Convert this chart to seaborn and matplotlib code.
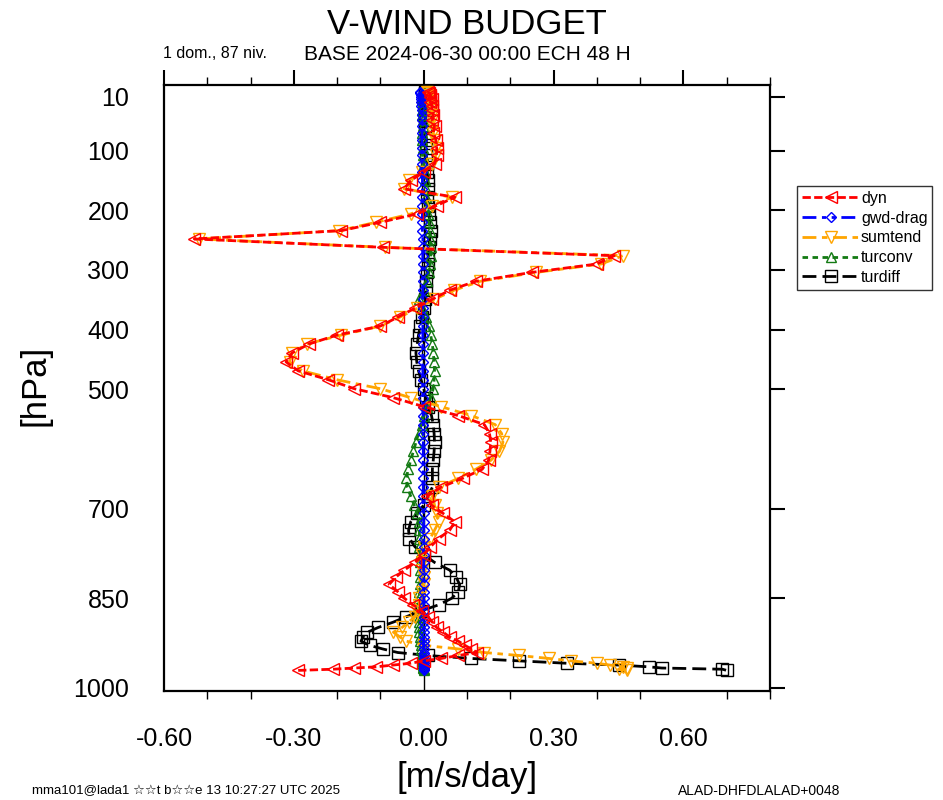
import matplotlib
matplotlib.use("Agg")
import matplotlib.pyplot as plt
import seaborn as sns
import numpy as np
import pandas as pd

# ---------------- data ----------------
pressure = [1, 3, 6, 10, 14, 19, 25, 32, 40, 49, 59, 70, 82, 95,
            108, 122, 136, 150, 164, 178, 192, 206, 220, 234, 248, 262, 276, 290,
            304, 319, 334, 349, 364, 379, 394, 409, 424, 439, 454, 469, 484, 499,
            514, 529, 544, 559, 574, 589, 604, 619, 634, 649, 664, 679, 694,
            708, 722, 736, 750, 764, 777, 790, 803, 815, 827, 839, 850, 861, 871,
            881, 890, 899, 907, 915, 922, 929, 935, 941, 946, 951, 955, 959, 962,
            965, 967, 969, 971]

dyn = [0.010, 0.012, 0.015, 0.015, 0.018, 0.015, 0.020, 0.018, 0.022, 0.020, 0.025, 0.022, 0.028, 0.030,
       0.030, 0.025, 0.000, -0.030, -0.045, 0.072, 0.030, -0.015, -0.100, -0.190, -0.530, -0.095, 0.440, 0.400,
       0.250, 0.120, 0.060, 0.020, -0.020, -0.060, -0.100, -0.200, -0.265, -0.304, -0.318, -0.290, -0.220, -0.160,
       -0.070, 0.000, 0.080, 0.140, 0.152, 0.155, 0.153, 0.150, 0.135, 0.090, 0.040, 0.008, 0.018,
       0.045, 0.072, 0.060, 0.035, 0.015, 0.000, -0.020, -0.045, -0.065, -0.080, -0.060, -0.045, -0.025, -0.005,
       0.010, 0.020, 0.030, 0.045, 0.060, 0.080, 0.095, 0.110, 0.123, 0.080, 0.040, 0.000, -0.030, -0.070,
       -0.110, -0.160, -0.210, -0.290]

gwd_drag = [-0.008, -0.008, -0.007, -0.007, -0.006, -0.006, -0.006, -0.005, -0.005, -0.005, -0.004, -0.004, -0.004, -0.004,
            -0.004, -0.004, -0.003, -0.003, -0.003, -0.003, -0.003, -0.003, -0.003, -0.003, -0.002, -0.002, -0.002, -0.002,
            -0.002, -0.002, -0.002, -0.002, -0.002, -0.002, -0.002, -0.002, -0.002, -0.002, -0.002, -0.002, -0.002, -0.002,
            -0.001, -0.001, -0.001, -0.001, -0.001, -0.001, -0.001, -0.001, -0.001, -0.001, -0.001, -0.001, -0.001,
            0.000, 0.000, 0.000, 0.000, 0.000, 0.000, 0.000, 0.000, 0.000, 0.000, 0.000, 0.000, 0.000, 0.000,
            0.000, 0.000, 0.000, 0.000, 0.000, 0.000, 0.000, 0.000, 0.000, 0.000, 0.000, 0.000, 0.000, 0.000,
            0.000, 0.000, 0.000, 0.000]

sumtend = [0.008, 0.010, 0.012, 0.014, 0.015, 0.015, 0.018, 0.018, 0.020, 0.020, 0.022, 0.022, 0.025, 0.028,
           0.028, 0.020, -0.005, -0.035, -0.045, 0.065, 0.020, -0.030, -0.110, -0.195, -0.520, -0.090, 0.460, 0.410,
           0.260, 0.130, 0.070, 0.025, -0.015, -0.055, -0.100, -0.190, -0.270, -0.305, -0.310, -0.280, -0.200, -0.100,
           -0.030, 0.040, 0.110, 0.165, 0.180, 0.183, 0.175, 0.155, 0.120, 0.080, 0.035, 0.020, 0.025,
           0.030, 0.035, 0.025, 0.015, 0.000, -0.005, -0.005, -0.005, 0.000, 0.000, -0.005, -0.010, -0.010, -0.015,
           -0.020, -0.035, -0.050, -0.070, -0.055, -0.040, 0.000, 0.080, 0.140, 0.220, 0.290, 0.340, 0.400, 0.430,
           0.460, 0.470, 0.450, 0.470]

turconv = [0.000, -0.002, -0.002, -0.003, -0.003, -0.002, -0.002, -0.003, -0.003, -0.002, -0.002, -0.003, -0.003, -0.002,
           -0.002, 0.000, 0.002, 0.004, 0.005, 0.006, 0.008, 0.010, 0.012, 0.014, 0.015, 0.016, 0.016, 0.015,
           0.012, 0.008, 0.000, -0.012, -0.005, 0.005, 0.012, 0.016, 0.020, 0.022, 0.024, 0.025, 0.024, 0.022,
           0.016, 0.008, 0.000, -0.005, -0.012, -0.018, -0.024, -0.030, -0.036, -0.040, -0.038, -0.030, -0.022,
           -0.015, -0.012, -0.010, -0.010, -0.010, -0.008, -0.008, -0.008, -0.008, -0.008, -0.010, -0.010, -0.010, -0.010,
           -0.010, -0.010, -0.010, -0.010, -0.008, -0.008, -0.006, -0.006, -0.005, -0.005, -0.004, -0.003, -0.003, -0.002,
           -0.002, -0.001, 0.000, 0.000]

turdiff = [0.002, 0.002, 0.003, 0.003, 0.004, 0.003, 0.004, 0.005, 0.004, 0.005, 0.004, 0.005, 0.006, 0.005,
           0.006, 0.008, 0.008, 0.010, 0.010, 0.008, 0.010, 0.012, 0.014, 0.016, 0.014, 0.012, 0.010, 0.010,
           0.008, 0.006, 0.005, 0.004, 0.000, -0.005, -0.008, -0.012, -0.015, -0.018, -0.016, -0.012, -0.006, 0.000,
           0.005, 0.010, 0.018, 0.022, 0.024, 0.025, 0.024, 0.022, 0.020, 0.020, 0.020, 0.010, 0.000,
           -0.015, -0.030, -0.035, -0.033, -0.020, 0.000, 0.025, 0.060, 0.075, 0.083, 0.080, 0.065, 0.035, -0.005,
           -0.040, -0.070, -0.105, -0.130, -0.140, -0.145, -0.125, -0.095, -0.060, 0.010, 0.110, 0.220, 0.330, 0.450,
           0.520, 0.550, 0.690, 0.700]

series_names = ["dyn", "gwd-drag", "sumtend", "turconv", "turdiff"]
x_ticks = [-0.60, -0.30, 0.00, 0.30, 0.60]
x_ticklabels = ["-0.60", "-0.30", "0.00", "0.30", "0.60"]
y_ticks = [10, 100, 200, 300, 400, 500, 700, 850, 1000]
y_ticklabels = ["10", "100", "200", "300", "400", "500", "700", "850", "1000"]

# ---------------- style ----------------
sns.set_theme(style="white")
FONT = ["Liberation Sans", "DejaVu Sans"]
plt.rcParams["font.family"] = FONT
plt.rcParams["text.color"] = "black"
plt.rcParams["axes.labelcolor"] = "black"

fig = plt.figure(figsize=(9.43, 8.0), dpi=100)
ax = fig.add_axes([164 / 943, 1 - 691 / 800, (770 - 164) / 943, (691 - 85) / 800])

ax.axvline(0.0, color="black", lw=1.0, zorder=0.5)

styles = {
    "turdiff": dict(vals=turdiff, color="black", marker="s", ms=8.5, ls=(0, (5, 2.2)), z=2),
    "turconv": dict(vals=turconv, color="#137a13", marker="^", ms=7.5, ls=(0, (2, 1.6)), z=3),
    "sumtend": dict(vals=sumtend, color="#ffa500", marker="v", ms=8.5, ls=(0, (5, 2, 2, 2)), z=4),
    "gwd-drag": dict(vals=gwd_drag, color="#0000ff", marker="D", ms=5.5, ls=(0, (5, 2, 1.5, 2, 1.5, 2)), z=5),
    "dyn": dict(vals=dyn, color="#ff0000", marker="<", ms=8.5, ls=(0, (3, 1.2)), z=6),
}

handles = {}
for name in ["turdiff", "turconv", "sumtend", "gwd-drag", "dyn"]:
    st = styles[name]
    df = pd.DataFrame({"value": st["vals"], "pressure": pressure})
    n_before = len(ax.lines)
    sns.lineplot(data=df, x="value", y="pressure", sort=False, estimator=None,
                 ax=ax, color=st["color"], lw=2.0, linestyle=st["ls"],
                 marker=st["marker"], markersize=st["ms"], markerfacecolor="none",
                 markeredgecolor=st["color"], markeredgewidth=1.0, zorder=st["z"],
                 legend=False)
    handles[name] = ax.lines[n_before]

ax.set_xlim(-0.6, 0.8)
ax.set_ylim(1005.5, -10.0)
ax.set_xticks(x_ticks)
ax.set_xticklabels(x_ticklabels)
ax.set_xticks(np.arange(-0.6, 0.81, 0.1), minor=True)
ax.set_yticks(y_ticks)
ax.set_yticklabels(y_ticklabels)
ax.tick_params(axis="both", which="major", direction="out", length=11, width=1.5,
               color="black", top=True, right=True, labeltop=False, labelright=False,
               labelsize=18, labelcolor="black")
ax.tick_params(axis="x", which="major", pad=15)
ax.tick_params(axis="y", which="major", pad=14)
ax.tick_params(axis="x", which="minor", direction="out", length=5.5, width=1.0,
               color="black", top=True, bottom=True)
ax.tick_params(axis="y", which="minor", left=False, right=False)
for sp in ax.spines.values():
    sp.set_visible(True)
    sp.set_color("black")
    sp.set_linewidth(1.6)
ax.grid(False)

ax.set_xlabel("[m/s/day]", fontsize=25, color="black")
ax.xaxis.set_label_coords(0.5, (691 - 778) / 606)
ax.xaxis.label.set_va("center")
ax.set_ylabel("[hPa]", fontsize=25, color="black")
ax.yaxis.set_label_coords((35 - 164) / 606, (691 - 385) / 606)
ax.yaxis.label.set_va("center")

fig.text(467 / 943, 1 - 25 / 800, "V-WIND BUDGET", ha="center", va="center", fontsize=25, color="black")
fig.text(467 / 943, 1 - 55 / 800, "BASE 2024-06-30 00:00 ECH 48 H", ha="center", va="center",
         fontsize=15, color="black")
fig.text(163 / 943, 1 - 54 / 800, "1 dom., 87 niv.", ha="left", va="center", fontsize=11.5, color="black")
fig.text(32 / 943, 1 - 791 / 800, "mma101@lada1 \u2606\u2606t b\u2606\u2606e 13 10:27:27 UTC 2025",
         ha="left", va="center", fontsize=9.5, color="black")
fig.text(840 / 943, 1 - 791 / 800, "ALAD-DHFDLALAD+0048", ha="right", va="center", fontsize=10, color="black")

leg = fig.legend([handles[n] for n in series_names], series_names,
                 loc="upper left", bbox_to_anchor=(797 / 943, 1 - 186 / 800),
                 frameon=True, fancybox=False, edgecolor="black", fontsize=11.5,
                 handlelength=3.6, handletextpad=0.1, borderpad=0.3,
                 labelspacing=0.3, borderaxespad=0.0, numpoints=1)
leg.get_frame().set_linewidth(1.0)
for t in leg.get_texts():
    t.set_color("black")

fig.savefig("out.png", dpi=100)
